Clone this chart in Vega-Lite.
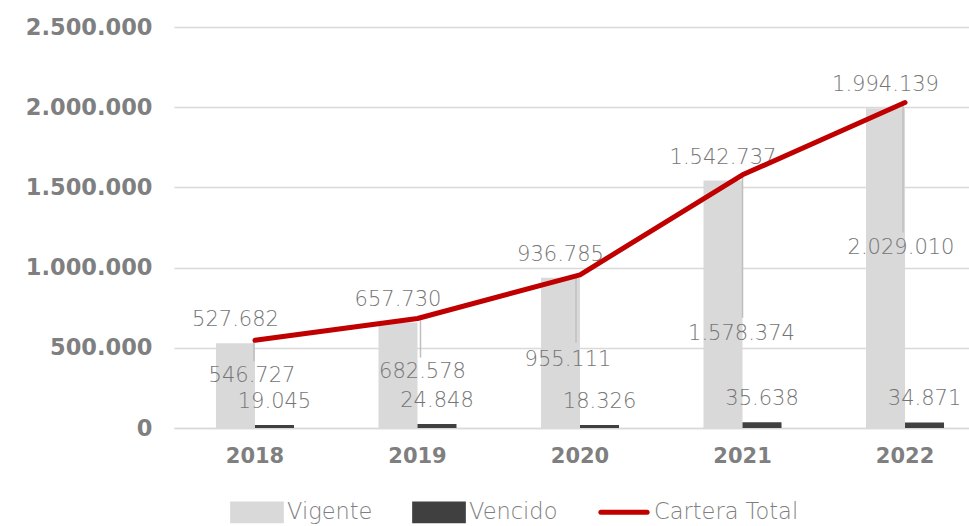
{
  "$schema": "https://vega.github.io/schema/vega-lite/v6.json",
  "autosize": {"type": "none"},
  "padding": {"left": 174, "top": 27, "right": 0, "bottom": 98},
  "width": 795,
  "height": 401,
  "config": {
    "view": {"stroke": null},
    "locale": {"number": {"decimal": ",", "thousands": ".", "grouping": [3], "currency": ["", ""]}},
    "text": {"font": "DejaVu Sans", "fontSize": 21, "fontWeight": 300, "fill": "#757575"}
  },
  "resolve": {"scale": {"y": "shared"}},
  "datasets": {
    "d": [
      {"year": "2018", "series": "Vigente", "value": 527682},
      {"year": "2019", "series": "Vigente", "value": 657730},
      {"year": "2020", "series": "Vigente", "value": 936785},
      {"year": "2021", "series": "Vigente", "value": 1542737},
      {"year": "2022", "series": "Vigente", "value": 1994139},
      {"year": "2018", "series": "Vencido", "value": 19045},
      {"year": "2019", "series": "Vencido", "value": 24848},
      {"year": "2020", "series": "Vencido", "value": 18326},
      {"year": "2021", "series": "Vencido", "value": 35638},
      {"year": "2022", "series": "Vencido", "value": 34871}
    ],
    "t": [
      {"year": "2018", "series": "Cartera Total", "total": 546727},
      {"year": "2019", "series": "Cartera Total", "total": 682578},
      {"year": "2020", "series": "Cartera Total", "total": 955111},
      {"year": "2021", "series": "Cartera Total", "total": 1578374},
      {"year": "2022", "series": "Cartera Total", "total": 2029010}
    ]
  },
  "encoding": {
    "x": {
      "field": "year", "type": "nominal",
      "scale": {"paddingInner": 0.52, "paddingOuter": 0.206, "align": 0.627},
      "axis": {
        "title": null, "labelAngle": 0, "ticks": false, "domain": true,
        "domainColor": "#d9d9d9", "domainWidth": 1.5,
        "labelFont": "DejaVu Sans", "labelFontSize": 21, "labelFontWeight": "bold",
        "labelColor": "#7f7f7f", "labelPadding": 17
      }
    }
  },
  "layer": [
    {
      "data": {"name": "d"},
      "mark": {"type": "bar"},
      "encoding": {
        "xOffset": {"field": "series", "type": "nominal", "scale": {"domain": ["Vigente", "Vencido"]}},
        "y": {
          "field": "value", "type": "quantitative",
          "scale": {"domain": [0, 2500000], "nice": false},
          "axis": {
            "title": null, "values": [0, 500000, 1000000, 1500000, 2000000, 2500000],
            "format": ",d", "ticks": false, "domain": false,
            "gridColor": "#d9d9d9", "gridWidth": 1.5,
            "labelFont": "DejaVu Sans", "labelFontSize": 22.5, "labelFontWeight": "bold",
            "labelColor": "#7f7f7f", "labelPadding": 22
          }
        },
        "color": {
          "field": "series", "type": "nominal",
          "scale": {"domain": ["Vigente", "Vencido", "Cartera Total"], "range": ["#d9d9d9", "#404040", "#c00000"]},
          "legend": {
            "orient": "none", "legendX": 56, "legendY": 458, "direction": "horizontal",
            "title": null, "labelFont": "DejaVu Sans", "labelFontSize": 22.5, "labelFontWeight": 300,
            "labelColor": "#7f7f7f", "symbolSize": 2370, "columnPadding": 31, "labelOffset": 3,
            "encode": {
              "symbols": {
                "update": {
                  "shape": {"signal": "datum.value === 'Cartera Total' ? 'M-1,-0.34M-0.95,0L0.95,0M1,0.34' : 'M-1,-0.34L1,-0.34L1,0.34L-1,0.34Z'"},
                  "fill": {"signal": "datum.value === 'Cartera Total' ? 'transparent' : scale('color', datum.value)"},
                  "stroke": {"signal": "datum.value === 'Cartera Total' ? '#c00000' : 'transparent'"},
                  "strokeWidth": {"value": 5},
                  "strokeCap": {"value": "round"},
                  "opacity": {"value": 1}
                }
              }
            }
          }
        }
      }
    },
    {
      "data": {"name": "d"},
      "mark": {"type": "text", "baseline": "alphabetic", "dy": -17},
      "encoding": {
        "xOffset": {"field": "series", "type": "nominal", "scale": {"domain": ["Vigente", "Vencido"]}},
        "y": {"field": "value", "type": "quantitative"},
        "text": {"field": "value", "type": "quantitative", "format": ",d"}
      }
    },
    {
      "data": {"name": "t"},
      "transform": [{"filter": "datum.year == '2018'"}],
      "mark": {"type": "rule", "color": "#bfbfbf", "strokeWidth": 1.5, "xOffset": -1, "yOffset": 2, "y2Offset": 21},
      "encoding": {"y": {"field": "total", "type": "quantitative"}, "y2": {"field": "total"}}
    },
    {
      "data": {"name": "t"},
      "transform": [{"filter": "datum.year == '2019'"}],
      "mark": {"type": "rule", "color": "#bfbfbf", "strokeWidth": 1.5, "xOffset": 3, "yOffset": 2, "y2Offset": 39},
      "encoding": {"y": {"field": "total", "type": "quantitative"}, "y2": {"field": "total"}}
    },
    {
      "data": {"name": "t"},
      "transform": [{"filter": "datum.year == '2020'"}],
      "mark": {"type": "rule", "color": "#bfbfbf", "strokeWidth": 1.5, "xOffset": -4, "yOffset": 2, "y2Offset": 68},
      "encoding": {"y": {"field": "total", "type": "quantitative"}, "y2": {"field": "total"}}
    },
    {
      "data": {"name": "t"},
      "transform": [{"filter": "datum.year == '2021'"}],
      "mark": {"type": "rule", "color": "#bfbfbf", "strokeWidth": 1.5, "yOffset": 2, "y2Offset": 143},
      "encoding": {"y": {"field": "total", "type": "quantitative"}, "y2": {"field": "total"}}
    },
    {
      "data": {"name": "t"},
      "transform": [{"filter": "datum.year == '2022'"}],
      "mark": {"type": "rule", "color": "#bfbfbf", "strokeWidth": 1.5, "xOffset": -2, "yOffset": 2, "y2Offset": 130},
      "encoding": {"y": {"field": "total", "type": "quantitative"}, "y2": {"field": "total"}}
    },
    {
      "data": {"name": "t"},
      "mark": {"type": "line", "strokeWidth": 5, "strokeCap": "round", "strokeJoin": "round"},
      "encoding": {
        "y": {"field": "total", "type": "quantitative"},
        "color": {"field": "series", "type": "nominal"}
      }
    },
    {
      "data": {"name": "t"},
      "transform": [{"filter": "datum.year == '2018'"}],
      "mark": {"type": "text", "baseline": "middle", "dy": 36, "dx": -3},
      "encoding": {"y": {"field": "total", "type": "quantitative"}, "text": {"field": "total", "type": "quantitative", "format": ",d"}}
    },
    {
      "data": {"name": "t"},
      "transform": [{"filter": "datum.year == '2019'"}],
      "mark": {"type": "text", "baseline": "middle", "dy": 53, "dx": 5},
      "encoding": {"y": {"field": "total", "type": "quantitative"}, "text": {"field": "total", "type": "quantitative", "format": ",d"}}
    },
    {
      "data": {"name": "t"},
      "transform": [{"filter": "datum.year == '2020'"}],
      "mark": {"type": "text", "baseline": "middle", "dy": 85, "dx": -12},
      "encoding": {"y": {"field": "total", "type": "quantitative"}, "text": {"field": "total", "type": "quantitative", "format": ",d"}}
    },
    {
      "data": {"name": "t"},
      "transform": [{"filter": "datum.year == '2021'"}],
      "mark": {"type": "text", "baseline": "middle", "dy": 159, "dx": -1},
      "encoding": {"y": {"field": "total", "type": "quantitative"}, "text": {"field": "total", "type": "quantitative", "format": ",d"}}
    },
    {
      "data": {"name": "t"},
      "transform": [{"filter": "datum.year == '2022'"}],
      "mark": {"type": "text", "baseline": "middle", "dy": 145, "dx": -4},
      "encoding": {"y": {"field": "total", "type": "quantitative"}, "text": {"field": "total", "type": "quantitative", "format": ",d"}}
    }
  ]
}
